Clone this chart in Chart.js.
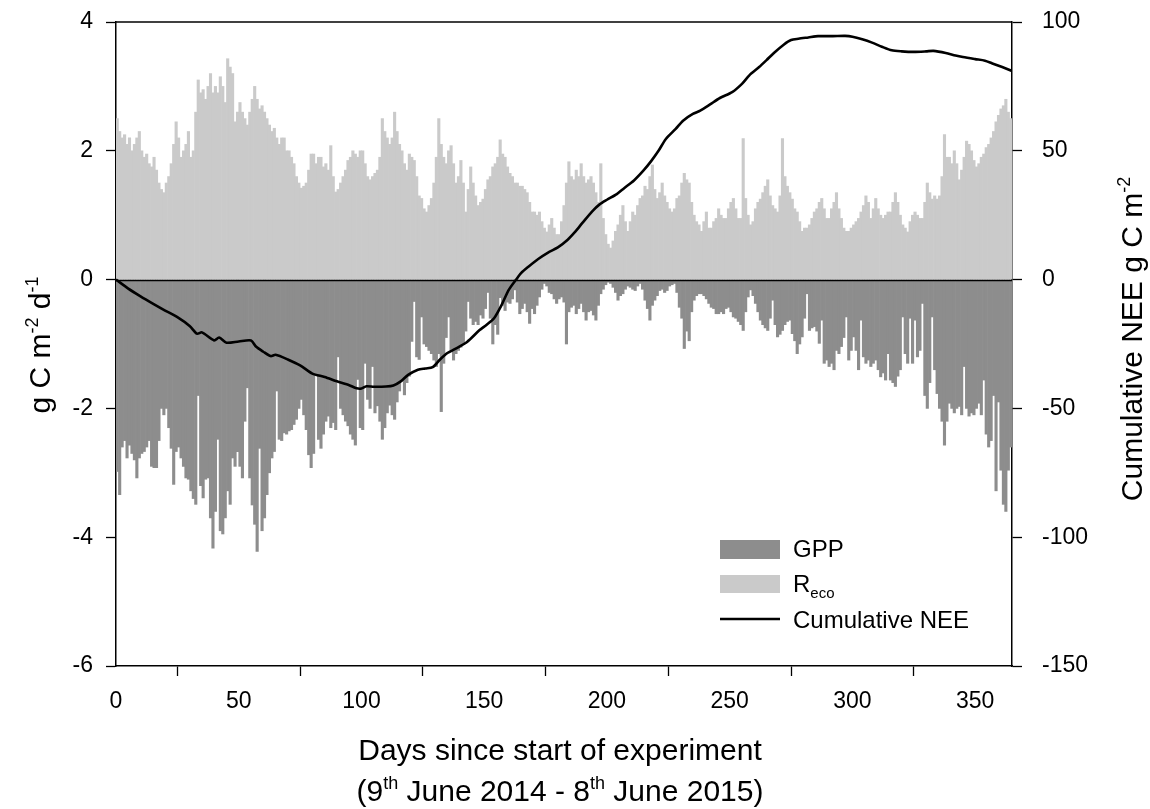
<!DOCTYPE html>
<html>
<head>
<meta charset="utf-8">
<title>GPP, Reco and cumulative NEE</title>
<script src="https://cdn.jsdelivr.net/npm/chart.js@4.4.1/dist/chart.umd.min.js"></script>
<style>
  html, body { margin: 0; padding: 0; background: #fff; }
  #wrap { width: 1150px; height: 809px; }
</style>
</head>
<body>
<div id="wrap"><canvas id="fluxChart" width="1150" height="809"></canvas></div>
<script>
// =====================================================
//  DATA — daily fluxes (g C m-2 d-1), day 0 = 9 June 2014
// =====================================================

/** Ecosystem respiration, one value per day (days 0-364) */
const reco = [
  2.5, 2.3, 2.2, 2.25, 2.1, 2.2, 2.0, 2.1, 2.2, 2.3,
  2.0, 1.9, 1.95, 1.8, 1.75, 1.9, 1.7, 1.5, 1.4, 1.35,
  1.5, 1.6, 1.8, 2.1, 2.45, 2.2, 1.9, 2.0, 2.1, 2.3,
  1.9, 2.0, 2.6, 3.1, 2.9, 2.95, 2.8, 3.0, 3.2, 2.9,
  3.0, 2.9, 3.15, 3.0, 2.75, 3.43, 3.3, 3.2, 2.45, 2.6,
  2.75, 2.6, 2.5, 2.4, 2.6, 2.8, 3.0, 2.8, 2.65, 2.7,
  2.6, 2.5, 2.4, 2.3, 2.35, 2.2, 2.1, 2.2, 2.2, 2.0,
  2.0, 1.9, 1.8, 1.6, 1.5, 1.42, 1.45, 1.5, 1.7, 1.95,
  1.95, 1.8, 1.9, 1.9, 1.75, 1.8, 1.7, 2.08, 1.6, 1.36,
  1.4, 1.5, 1.6, 1.7, 1.85, 1.9, 2.0, 1.95, 1.9, 2.0,
  2.0, 1.8, 1.6, 1.55, 1.6, 1.65, 1.7, 1.9, 2.5, 2.3,
  2.2, 2.1, 2.2, 2.6, 2.3, 2.1, 2.0, 1.8, 1.7, 1.95,
  1.9, 1.85, 1.6, 1.3, 1.26, 1.1, 1.05, 1.15, 1.26, 1.5,
  1.9, 2.5, 2.1, 1.9, 1.8, 2.0, 2.08, 1.8, 1.5, 1.6,
  1.85, 1.5, 1.05, 1.4, 1.75, 1.5, 1.3, 1.15, 1.2, 1.25,
  1.4, 1.55, 1.6, 1.75, 1.8, 1.9, 2.17, 1.95, 1.9, 1.75,
  1.65, 1.6, 1.5, 1.5, 1.45, 1.45, 1.4, 1.35, 1.2, 1.05,
  1.05, 1.0, 1.05, 0.9, 0.8, 0.74, 0.85, 0.95, 0.8, 0.7,
  0.7, 0.9, 1.15, 1.5, 1.83, 1.6, 1.55, 1.7, 1.6, 1.8,
  1.6, 1.5, 1.55, 1.6, 1.5, 1.35, 1.2, 1.8, 0.95, 0.7,
  0.55, 0.49, 0.6, 0.75, 0.85, 1.0, 1.15, 0.9, 0.75, 0.9,
  1.05, 1.0, 1.15, 1.26, 1.3, 1.45, 1.4, 1.6, 1.78, 1.4,
  1.26, 1.35, 1.5, 1.3, 1.2, 1.1, 1.05, 1.1, 1.26, 1.3,
  1.5, 1.65, 1.55, 1.5, 1.2, 1.0, 0.9, 0.85, 0.75, 0.9,
  1.05, 0.8, 0.8, 0.9, 0.95, 1.1, 1.0, 0.95, 0.95, 1.1,
  1.2, 1.26, 1.1, 0.95, 0.95, 2.19, 1.26, 1.0, 0.85, 0.9,
  1.1, 1.2, 1.25, 1.35, 1.45, 1.55, 1.3, 1.15, 1.1, 1.05,
  1.3, 2.19, 1.6, 1.45, 1.35, 1.25, 1.1, 1.05, 0.9, 0.75,
  0.8, 0.8, 0.85, 0.95, 1.05, 1.1, 1.2, 1.26, 1.1, 0.95,
  0.95, 1.1, 1.2, 1.35, 1.1, 0.95, 0.8, 0.75, 0.75, 0.8,
  0.85, 0.9, 0.95, 1.05, 1.15, 1.3, 1.2, 0.95, 1.1, 1.26,
  1.1, 1.0, 0.95, 1.0, 1.05, 1.05, 1.2, 1.35, 1.2, 1.0,
  0.85, 0.8, 0.74, 0.9, 1.0, 1.05, 1.0, 0.95, 0.95, 1.2,
  1.5, 1.35, 1.25, 1.3, 1.25, 1.3, 1.6, 2.25, 1.9, 1.9,
  1.8, 2.0, 1.8, 1.55, 1.7, 1.9, 2.15, 2.1, 2.0, 1.85,
  1.75, 1.8, 1.9, 1.95, 2.05, 2.1, 2.2, 2.3, 2.45, 2.55,
  2.65, 2.7, 2.8, 2.6, 2.5
];

/** Gross primary production (negative = uptake), days 0-364 */
const gpp = [
  -2.98, -3.34, -2.6, -2.5, -2.77, -2.57, -2.7, -2.8, -3.08, -2.77,
  -2.7, -2.67, -2.6, -2.5, -2.9, -2.92, -2.92, -2.5, -2.0, -2.1,
  -2.0, -2.3, -2.62, -3.18, -2.67, -2.6, -2.77, -2.9, -3.08, -3.1,
  -3.28, -3.4, -3.49, -1.8, -3.2, -3.39, -3.1, -3.08, -3.7, -4.17,
  -3.6, -2.48, -3.9, -3.95, -3.7, -3.28, -3.49, -2.77, -2.9, -2.67,
  -2.9, -3.08, -2.2, -1.68, -3.08, -3.5, -3.8, -4.22, -2.62, -3.9,
  -3.7, -3.34, -3.0, -2.77, -2.67, -1.73, -2.48, -2.5, -2.38, -2.4,
  -2.35, -2.33, -2.25, -2.17, -2.0, -1.86, -2.1, -2.33, -2.72, -2.92,
  -2.7, -1.47, -2.48, -2.62, -2.4, -2.2, -2.12, -2.3, -2.22, -2.33,
  -1.2, -2.0, -2.1, -2.2, -2.27, -2.4, -2.48, -2.57, -1.55, -2.3,
  -2.33, -1.3, -1.86, -2.0, -1.35, -2.07, -1.96, -2.2, -2.48, -2.3,
  -2.07, -1.95, -2.1, -2.17, -1.9, -1.73, -1.58, -1.79, -1.6, -1.5,
  -0.96, -0.34, -1.2, -1.24, -0.58, -1.0, -1.04, -1.1, -1.15, -1.25,
  -1.35, -1.15, -2.05, -1.3, -0.9, -0.58, -1.1, -1.25, -1.15, -1.1,
  -1.05, -1.0, -0.8, -0.34, -0.6, -0.7, -0.65, -0.7, -0.55, -0.6,
  -0.45, -0.2, -0.6, -1.0, -0.7, -0.85, -0.28, -0.4, -0.48, -0.35,
  -0.37, -0.3, -0.16, -0.35, -0.53, -0.45, -0.37, -0.5, -0.68, -0.45,
  -0.53, -0.4, -0.27, -0.15, -0.06, -0.1, -0.2, -0.22, -0.3, -0.37,
  -0.3, -0.27, -0.35, -1.0, -0.5, -0.43, -0.4, -0.53, -0.45, -0.37,
  -0.5, -0.63, -0.5, -0.48, -0.55, -0.63, -0.4, -0.22, -0.15, -0.08,
  -0.04, -0.06, -0.12, -0.2, -0.32, -0.25, -0.22, -0.15, -0.1, -0.12,
  -0.15, -0.17, -0.1, -0.06, -0.15, -0.32, -0.45, -0.63, -0.4, -0.32,
  -0.25, -0.17, -0.15, -0.2, -0.17, -0.1, -0.08, -0.06, -0.2, -0.43,
  -0.6, -1.07, -0.8, -0.95, -0.5, -0.32, -0.25, -0.22, -0.22, -0.25,
  -0.3, -0.37, -0.43, -0.45, -0.53, -0.53, -0.5, -0.53, -0.45, -0.43,
  -0.5, -0.58, -0.6, -0.65, -0.7, -0.79, -0.5, -0.27, -0.16, -0.25,
  -0.37, -0.5, -0.63, -0.7, -0.75, -0.79, -0.6, -0.32, -0.7, -0.89,
  -0.85, -0.79, -0.7, -0.65, -0.63, -0.84, -0.95, -1.15, -1.0, -0.89,
  -0.6, -0.22, -0.79, -0.75, -0.73, -0.8, -0.99, -0.63, -1.3, -1.25,
  -1.35, -1.3, -1.4, -1.1, -1.15, -1.04, -0.9, -0.58, -1.25, -1.1,
  -0.89, -1.1, -1.4, -0.63, -1.2, -1.3, -1.25, -1.35, -1.3, -1.25,
  -1.4, -1.51, -1.45, -1.56, -1.15, -1.56, -1.6, -1.66, -1.5, -1.4,
  -0.58, -1.15, -1.3, -0.6, -1.3, -0.63, -1.2, -1.1, -0.37, -1.8,
  -2.0, -1.6, -0.58, -1.4, -1.77, -2.0, -2.2, -2.57, -2.2, -1.92,
  -2.0, -2.07, -2.0, -1.97, -2.1, -1.35, -2.0, -2.12, -2.07, -2.1,
  -2.0, -1.92, -2.1, -1.56, -2.4, -2.6, -2.5, -1.8, -3.28, -1.9,
  -2.96, -3.49, -3.6, -2.96, -2.6
];

/** Cumulative NEE (g C m-2) */
const neeDays = [
  0, 5, 10, 15, 20, 25, 30, 33, 35, 40, 42, 45, 50, 55, 57, 60, 63, 65, 70, 75,
  80, 85, 90, 95, 98, 100, 102, 105, 110, 113, 116, 119, 123, 126, 129, 132, 135, 138, 143, 148,
  151, 154, 157, 160, 163, 165, 168, 172, 176, 180, 184, 187, 190, 194, 197, 200, 204, 207, 211, 215,
  218, 221, 224, 228, 231, 235, 238, 242, 246, 251, 255, 258, 262, 265, 268, 272, 275, 278, 282, 286,
  292, 297, 300, 304, 308, 312, 316, 320, 325, 330, 333, 338, 342, 345, 350, 354, 357, 361, 365
];
const neeValues = [
  0, -3.5, -6.5, -9.3, -12, -14.6, -18, -21, -20.5, -23.6, -22.5, -24.5, -24, -23.6, -26, -28, -29.7, -29.2, -31, -33.3,
  -36.5, -37.8, -39.5, -41, -42.2, -42.3, -41.4, -41.6, -41.5, -41.1, -39.5, -37, -35, -34.5, -34, -31, -28.5, -27, -24.2, -19.7,
  -17.5, -15, -10, -4, 0, 2.5, 5, 8, 10.5, 12.5, 15.5, 18.5, 22, 26.5, 29.2, 31, 33.2, 35.5, 38.5, 42.5,
  46, 50, 54.6, 58.5, 61.7, 64.3, 65.6, 68, 70.5, 72.8, 76, 79.3, 82.5, 85.2, 88, 91.2, 93, 93.5, 94, 94.5,
  94.5, 94.6, 94.3, 93.3, 92, 90.4, 89, 88.6, 88.4, 88.6, 88.8, 88, 87, 86.4, 85.6, 85, 83.9, 82.5, 81
];

/** Tick positions */
const xTicks     = [0, 50, 100, 150, 200, 250, 300, 350];
const fluxTicks  = [-6, -4, -2, 0, 2, 4];
const neeTicks   = [-150, -100, -50, 0, 50, 100];

// =====================================================
//  STYLE
// =====================================================
const FONT    = "'Liberation Sans', Arial, Helvetica, sans-serif";
const C_GPP   = "#8d8d8d";
const C_RECO  = "#cacaca";
const C_LINE  = "#000000";

// bars sit on [d, d+1]
const recoPts = reco.map((v, i) => ({ x: i + 0.5, y: v }));
const gppPts  = gpp.map((v, i) => ({ x: i + 0.5, y: v }));
const neePts  = neeDays.map((d, i) => ({ x: d, y: neeValues[i] }));

/**
 * Draw a run of text pieces, some raised (sup) or lowered (sub)
 * parts: [{ t, size, dy }]
 */
function drawRich(ctx, parts, x, y, align) {
  let total = 0;
  parts.forEach(p => {
    ctx.font = p.size + "px " + FONT;
    p.w = ctx.measureText(p.t).width;
    total += p.w;
  });
  let cx = align === "center" ? x - total / 2 : x;
  ctx.textAlign = "left";
  ctx.textBaseline = "alphabetic";
  parts.forEach(p => {
    ctx.font = p.size + "px " + FONT;
    ctx.fillText(p.t, cx, y + (p.dy || 0));
    cx += p.w;
  });
}

// the axes reserve label padding at their ends; the frame is placed by hand instead
function fixBox(size) {
  return s => {
    if (s.isHorizontal()) s.height = size; else s.width = size;
    s.paddingTop = 0;
    s.paddingBottom = 0;
    s.paddingLeft = 0;
    s.paddingRight = 0;
  };
}

// frame, zero line, titles, legend
const decorPlugin = {
  id: "decor",
  beforeDatasetDraw(chart, args) {
    // zero line goes over the bars but under the NEE curve
    if (args.meta.type !== "line") return;
    const { ctx, chartArea, scales } = chart;
    const y0 = Math.round(scales.y.getPixelForValue(0)) + 0.5;
    ctx.save();
    ctx.strokeStyle = "#000";
    ctx.lineWidth = 1.3;
    ctx.beginPath();
    ctx.moveTo(chartArea.left, y0);
    ctx.lineTo(chartArea.right, y0);
    ctx.stroke();
    ctx.restore();
  },
  afterDraw(chart) {
    const { ctx, chartArea } = chart;
    ctx.save();
    ctx.fillStyle = "#000";

    // top border of the frame
    ctx.strokeStyle = "#000";
    ctx.lineWidth = 1.5;
    ctx.beginPath();
    ctx.moveTo(chartArea.left, chartArea.top);
    ctx.lineTo(chartArea.right, chartArea.top);
    ctx.stroke();

    // x title, two lines
    drawRich(ctx, [{ t: "Days since start of experiment", size: 30 }], 560, 760, "center");
    drawRich(ctx, [
      { t: "(9", size: 30 },
      { t: "th", size: 18, dy: -12 },
      { t: " June 2014 - 8", size: 30 },
      { t: "th", size: 18, dy: -12 },
      { t: " June 2015)", size: 30 }
    ], 560, 801, "center");

    // left y title
    ctx.save();
    ctx.translate(50, 345);
    ctx.rotate(-Math.PI / 2);
    drawRich(ctx, [
      { t: "g C m", size: 30 },
      { t: "-2", size: 18, dy: -12 },
      { t: " d", size: 30 },
      { t: "-1", size: 18, dy: -12 }
    ], 0, 0, "center");
    ctx.restore();

    // right y title
    ctx.save();
    ctx.translate(1142, 339);
    ctx.rotate(-Math.PI / 2);
    drawRich(ctx, [
      { t: "Cumulative NEE g C m", size: 30 },
      { t: "-2", size: 18, dy: -12 }
    ], 0, 0, "center");
    ctx.restore();

    // legend
    ctx.fillStyle = C_GPP;
    ctx.fillRect(720, 540, 60, 19);
    ctx.fillStyle = C_RECO;
    ctx.fillRect(720, 575, 60, 18);
    ctx.strokeStyle = C_LINE;
    ctx.lineWidth = 2.5;
    ctx.beginPath();
    ctx.moveTo(720, 619);
    ctx.lineTo(780, 619);
    ctx.stroke();
    ctx.fillStyle = "#000";
    drawRich(ctx, [{ t: "GPP", size: 24 }], 793, 557, "left");
    drawRich(ctx, [{ t: "R", size: 24 }, { t: "eco", size: 15, dy: 6 }], 793, 592, "left");
    drawRich(ctx, [{ t: "Cumulative NEE", size: 24 }], 793, 628, "left");

    ctx.restore();
  }
};

// =====================================================
//  CHART
// =====================================================
const tickFont = { family: FONT, size: 23 };

const ctx = document.getElementById("fluxChart").getContext("2d");
const fluxChart = new Chart(ctx, {
  type: "bar",
  data: {
    datasets: [
      {
        type: "line",
        label: "Cumulative NEE",
        data: neePts,
        yAxisID: "y2",
        borderColor: C_LINE,
        borderWidth: 2.6,
        pointRadius: 0,
        tension: 0.25,
        fill: false,
        order: 0
      },
      {
        label: "Reco",
        data: recoPts,
        yAxisID: "y",
        backgroundColor: C_RECO,
        borderWidth: 0,
        grouped: false,
        barPercentage: 1,
        categoryPercentage: 1,
        order: 2
      },
      {
        label: "GPP",
        data: gppPts,
        yAxisID: "y",
        backgroundColor: C_GPP,
        borderWidth: 0,
        grouped: false,
        barPercentage: 1,
        categoryPercentage: 1,
        order: 1
      }
    ]
  },
  options: {
    responsive: false,
    animation: false,
    layout: { padding: { top: 22, left: 0, right: 0, bottom: 0 } },
    plugins: {
      legend:  { display: false },
      tooltip: { enabled: false }
    },
    scales: {
      x: {
        type: "linear",
        min: 0,
        max: 365,
        offset: false,
        afterBuildTicks: s => { s.ticks = xTicks.map(v => ({ value: v })); },
        afterFit: fixBox(143),
        grid:   { drawOnChartArea: false, tickLength: 10, tickColor: "#000", tickWidth: 1.3 },
        border: { color: "#000", width: 1.5 },
        ticks:  { color: "#000", font: tickFont, padding: 12, maxRotation: 0 }
      },
      y: {
        position: "left",
        min: -6,
        max: 4,
        afterBuildTicks: s => { s.ticks = fluxTicks.map(v => ({ value: v })); },
        afterFit: fixBox(116),
        grid:   { drawOnChartArea: false, tickLength: 10, tickColor: "#000", tickWidth: 1.3 },
        border: { color: "#000", width: 1.5 },
        ticks:  { color: "#000", font: tickFont, padding: 13 }
      },
      y2: {
        position: "right",
        min: -150,
        max: 100,
        afterBuildTicks: s => { s.ticks = neeTicks.map(v => ({ value: v })); },
        afterFit: fixBox(138),
        grid:   { drawOnChartArea: false, tickLength: 10, tickColor: "#000", tickWidth: 1.3 },
        border: { color: "#000", width: 1.5 },
        ticks:  { color: "#000", font: tickFont, padding: 20 }
      }
    }
  },
  plugins: [decorPlugin]
});
</script>
</body>
</html>
